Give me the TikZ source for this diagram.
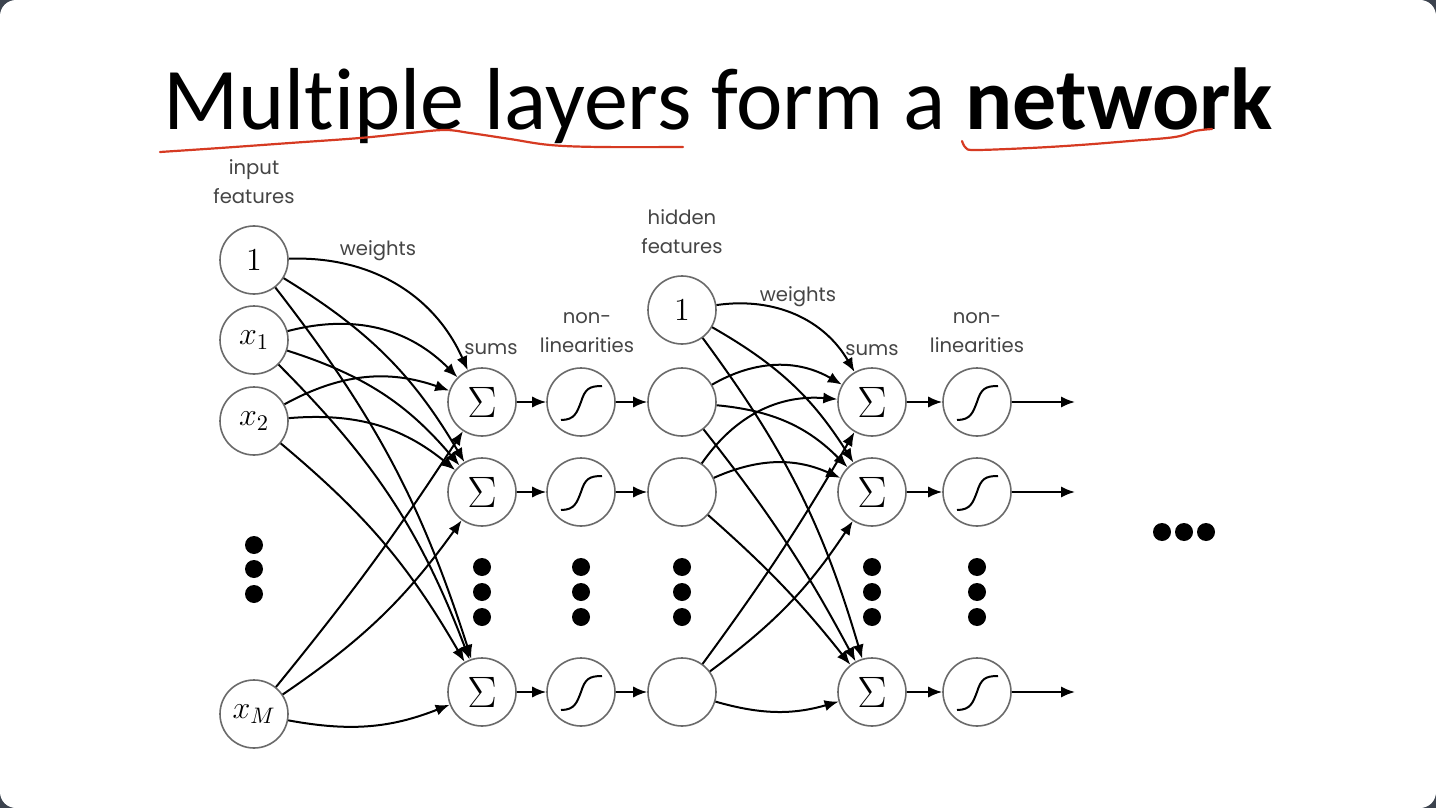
\RequirePackage{fix-cm}
\documentclass[tikz,border=0pt]{standalone}
\usepackage{fontspec}
\usetikzlibrary{arrows.meta}
\newfontfamily\titlefont{Carlito}[Ligatures={NoCommon}]
\newfontfamily\labelfont{Poppins}
\definecolor{bgdark}{HTML}{3C434E}
\definecolor{inkred}{HTML}{D63A22}
\definecolor{ringgray}{HTML}{6A6A6A}
\definecolor{labelgray}{HTML}{454545}
\newcommand\sigmoidcurve[1]{%
  \draw[line width=1pt]
    ([shift={(-20,18)}]#1.center) .. controls ([shift={(-6,18)}]#1.center) and ([shift={(-4,10)}]#1.center) ..
    ([shift={(0,0)}]#1.center) .. controls ([shift={(4,-13)}]#1.center) and ([shift={(8,-16)}]#1.center) ..
    ([shift={(21,-16)}]#1.center);}
\newcommand\sumglyph{\fontsize{22}{24}\selectfont$\Sigma$}
\begin{document}
\begin{tikzpicture}[x=0.5pt,y=-0.5pt,
  neuron/.style={circle,draw=ringgray,line width=0.8pt,minimum size=34pt,inner sep=0pt,fill=white,
    font=\fontsize{16}{18}\selectfont},
  link/.style={line width=1pt,-{Latex[length=7pt,width=5.6pt]}},
  dotc/.style={circle,fill=black,inner sep=0pt,minimum size=9pt},
  lbl/.style={font=\labelfont\fontsize{9.8}{14.5}\selectfont,text=labelgray,align=center},
  uline/.style={draw=inkred,line width=1.1pt,line cap=round,line join=round}]

% slide background with rounded corners
\fill[bgdark] (0,0) rectangle (1436,808);
\fill[white,rounded corners=8pt] (0,0) rectangle (1436,808);
\useasboundingbox (0,0) rectangle (1436,808);

% title and hand-drawn underlines
\node[anchor=base,font=\titlefont\fontsize{44}{50}\selectfont,inner sep=0pt] (title) at (718,130)
  {Multiple layers form a \textbf{network}};
\draw[uline] plot[smooth,tension=0.6] coordinates {(160,152) (220,148) (290,143) (360,138) (410,133) (445,130) (470,133) (510,139) (550,145) (600,147) (683,147)};
\draw[uline] plot[smooth,tension=0.6] coordinates {(962,141) (966,148) (976,150) (1030,148) (1080,145) (1130,141) (1175,137) (1195,131) (1212,129)};

% input layer
\node[neuron] (i0) at (254,260) {$1$};
\node[neuron] (i1) at (254,340) {$x_1$};
\node[neuron] (i2) at (254,421) {$x_2$};
\node[neuron] (iM) at (254,714) {$x_M$};
\node[dotc] (id1) at (254,545) {};
\node[dotc] (id2) at (254,569) {};
\node[dotc] (id3) at (254,594) {};

% first sums
\node[neuron] (s1) at (482,402) {\sumglyph};
\node[neuron] (s2) at (482,492) {\sumglyph};
\node[neuron] (s3) at (482,692) {\sumglyph};
\node[dotc] (sd1) at (482,567) {};
\node[dotc] (sd2) at (482,592) {};
\node[dotc] (sd3) at (482,617) {};

% first nonlinearities
\node[neuron] (n1) at (581,402) {};
\node[neuron] (n2) at (581,492) {};
\node[neuron] (n3) at (581,692) {};
\node[dotc] (nd1) at (581,567) {};
\node[dotc] (nd2) at (581,592) {};
\node[dotc] (nd3) at (581,617) {};

% hidden features
\node[neuron] (h0) at (682,310) {$1$};
\node[neuron] (h1) at (682,402) {};
\node[neuron] (h2) at (682,492) {};
\node[neuron] (h3) at (682,692) {};
\node[dotc] (hd1) at (682,567) {};
\node[dotc] (hd2) at (682,592) {};
\node[dotc] (hd3) at (682,617) {};

% second sums
\node[neuron] (t1) at (872,402) {\sumglyph};
\node[neuron] (t2) at (872,492) {\sumglyph};
\node[neuron] (t3) at (872,692) {\sumglyph};
\node[dotc] (td1) at (872,567) {};
\node[dotc] (td2) at (872,592) {};
\node[dotc] (td3) at (872,617) {};

% second nonlinearities
\node[neuron] (m1) at (977,402) {};
\node[neuron] (m2) at (977,492) {};
\node[neuron] (m3) at (977,692) {};
\node[dotc] (md1) at (977,567) {};
\node[dotc] (md2) at (977,592) {};
\node[dotc] (md3) at (977,617) {};

\foreach \n in {n1,n2,n3,m1,m2,m3} {\sigmoidcurve{\n}}

% outputs and trailing dots
\coordinate (o1) at (1075,402);
\coordinate (o2) at (1075,492);
\coordinate (o3) at (1075,692);
\node[dotc] (rd1) at (1162,532) {};
\node[dotc] (rd2) at (1184,532) {};
\node[dotc] (rd3) at (1206,532) {};

% labels
\node[lbl] (lin) at (254,182) {input\\features};
\node[lbl] (lw1) at (378,251) {weights};
\node[lbl] (ls1) at (491,349) {sums};
\node[lbl] (lnl1) at (587,333) {non-\\linearities};
\node[lbl] (lhid) at (682,232) {hidden\\features};
\node[lbl] (lw2) at (798,297) {weights};
\node[lbl] (ls2) at (872,350) {sums};
\node[lbl] (lnl2) at (977,333) {non-\\linearities};

% input -> first sums
\draw[link] (i0) to[bend left=34] (s1);
\draw[link] (i0) to[bend left=14] (s2);
\draw[link] (i0) to[bend left=10] (s3);
\draw[link] (i1) to[bend left=30] (s1);
\draw[link] (i1) to[bend left=16] (s2);
\draw[link] (i1) to[bend left=12] (s3);
\draw[link] (i2) to[bend left=24] (s1);
\draw[link] (i2) to[bend left=22] (s2);
\draw[link] (i2) to[bend left=10] (s3);
\draw[link] (iM) to[bend right=3] (s1);
\draw[link] (iM) to[bend right=10] (s2);
\draw[link] (iM) to[bend right=16] (s3);

% sums -> nonlinearities -> hidden, and outputs
\foreach \a/\b in {s1/n1,s2/n2,s3/n3,n1/h1,n2/h2,n3/h3,t1/m1,t2/m2,t3/m3,m1/o1,m2/o2,m3/o3}
  {\draw[link] (\a) -- (\b);}

% hidden -> second sums
\draw[link] (h0) to[bend left=34] (t1);
\draw[link] (h0) to[bend left=14] (t2);
\draw[link] (h0) to[bend left=10] (t3);
\draw[link] (h1) to[bend left=30] (t1);
\draw[link] (h1) to[bend left=20] (t2);
\draw[link] (h1) to[bend left=5] (t3);
\draw[link] (h2) to[bend left=30] (t1);
\draw[link] (h2) to[bend left=24] (t2);
\draw[link] (h2) to[bend left=5] (t3);
\draw[link] (h3) to[bend right=3] (t1);
\draw[link] (h3) to[bend right=10] (t2);
\draw[link] (h3) to[bend right=16] (t3);
\end{tikzpicture}
\end{document}
